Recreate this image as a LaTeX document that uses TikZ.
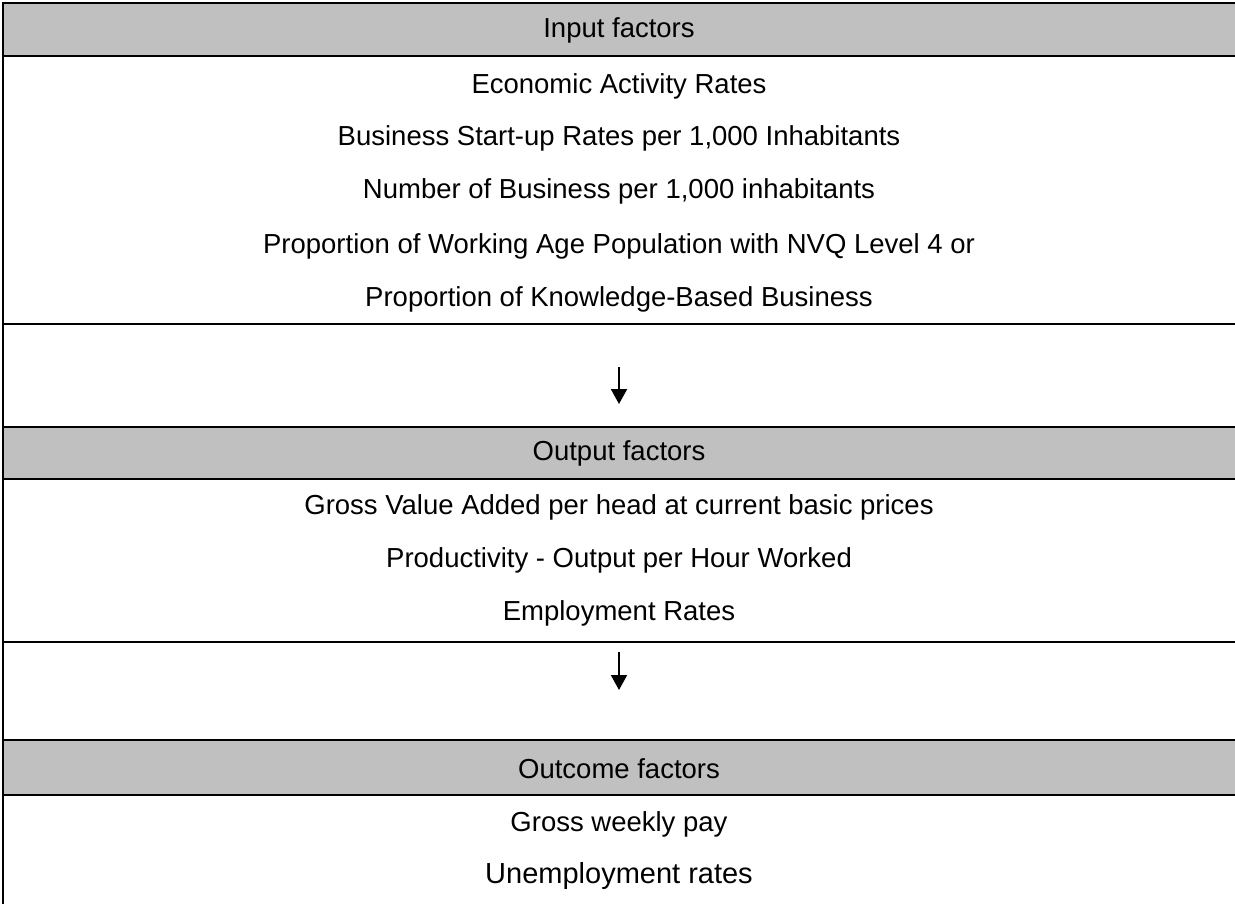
\documentclass[tikz,border=0pt]{standalone}
\usepackage{fontspec}
\setmainfont{Liberation Sans}
\usepackage{tikz}
\usetikzlibrary{arrows.meta,positioning,calc}
\definecolor{headgray}{HTML}{C0C0C0}
\definecolor{ink}{HTML}{000000}

\tikzset{
  rowtext/.style={anchor=base, inner sep=0pt, font=\color{ink}\fontsize{27.5}{32}\selectfont},
  bigtext/.style={anchor=base, inner sep=0pt, font=\color{ink}\fontsize{29}{34}\selectfont},
  headrow/.style={fill=headgray, draw=ink, line width=2pt},
  rowrule/.style={draw=ink, line width=2pt},
  flowarrow/.style={draw=ink, line width=2pt, -{Triangle[width=16pt,length=15pt]}},
}

\begin{document}
\begin{tikzpicture}[x=1pt, y=-1pt]
  \def\tabl{3}
  \def\tabr{1245}
  \def\colx{619}
  \clip (0,0) rectangle (1235,904);

  % grey title rows
  \draw[headrow] (\tabl,3) rectangle (\tabr,56.5);
  \draw[headrow] (\tabl,427) rectangle (\tabr,479);
  \draw[headrow] (\tabl,740) rectangle (\tabr,795);
  % frame and row rules
  \draw[rowrule] (\tabl,2) -- (\tabl,910);
  \draw[rowrule] (\tabl,324) -- (\tabr,324);
  \draw[rowrule] (\tabl,642) -- (\tabr,642);

  \node[rowtext] (inhead) at (\colx,38) {Input factors};
  \node[rowtext] (in1) at (\colx,94) {Economic Activity Rates};
  \node[rowtext] (in2) at (\colx,146) {Business Start-up Rates per 1,000 Inhabitants};
  \node[rowtext] (in3) at (\colx,199) {Number of Business per 1,000 inhabitants};
  \node[rowtext] (in4) at (\colx,254) {Proportion of Working Age Population with NVQ Level 4 or};
  \node[rowtext] (in5) at (\colx,307) {Proportion of Knowledge-Based Business};

  \node[rowtext] (outhead) at (\colx,460) {Output factors};
  \node[rowtext] (out1) at (\colx,514) {Gross Value Added per head at current basic prices};
  \node[rowtext] (out2) at (\colx,567) {Productivity - Output per Hour Worked};
  \node[rowtext] (out3) at (\colx,620) {Employment Rates};

  \node[rowtext] (ochead) at (\colx,778) {Outcome factors};
  \node[rowtext] (oc1) at (\colx,831) {Gross weekly pay};
  \node[bigtext] (oc2) at (\colx,883) {Unemployment rates};

  % arrows between the blocks
  \coordinate (a1s) at (\colx,367);
  \coordinate (a1e) at (\colx,404);
  \coordinate (a2s) at (\colx,652);
  \coordinate (a2e) at (\colx,690);
  \draw[flowarrow] (a1s) -- (a1e);
  \draw[flowarrow] (a2s) -- (a2e);
\end{tikzpicture}
\end{document}
